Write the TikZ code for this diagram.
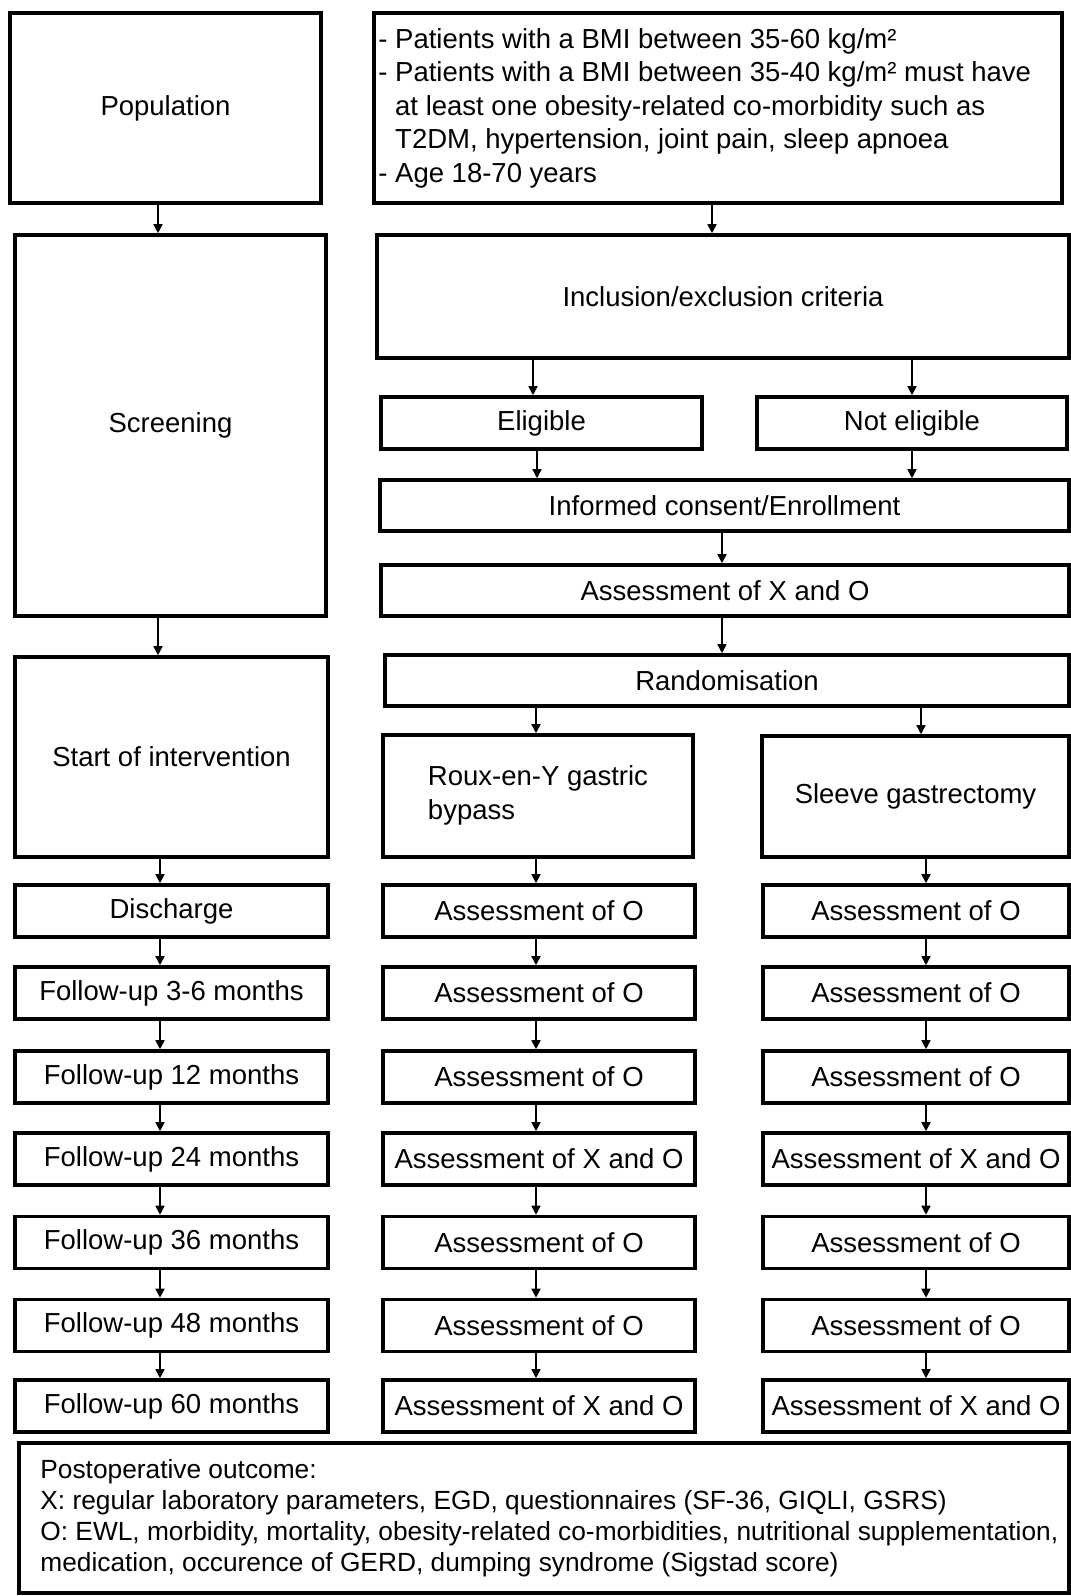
\documentclass[tikz,border=0pt]{standalone}
\usepackage{fontspec}
\setmainfont{Liberation Sans}
\usetikzlibrary{arrows.meta}

\begin{document}
\begin{tikzpicture}[
  x=1pt, y=-1pt,
  >={Triangle[length=9pt,width=9pt]},
  box/.style={draw, line width=3.6pt, inner sep=0pt, align=center,
    font=\fontsize{27.5}{33.5}\selectfont},
  txt/.style={inner sep=0pt, align=left, anchor=west},
  arr/.style={->, line width=1.6pt},
  lrow/.style={box, minimum width=313pt, minimum height=52pt},
  rrow/.style={box, minimum width=312pt, minimum height=52pt},
  srow/.style={box, minimum width=306pt, minimum height=52pt},
]

  % page size of the reference
  \path[use as bounding box] (0,0) rectangle (1071,1596);

  % arrow columns
  \coordinate (lcol) at (160,0);
  \coordinate (rcol) at (536,0);
  \coordinate (scol) at (926,0);
  \coordinate (mcol) at (722,0);
  \coordinate (ncol) at (912,0);
  \coordinate (tcol) at (712,0);

  % --- Top part ---
  \node[box, minimum width=311pt, minimum height=190pt] (pop) at (165.5,108) {Population};
  \node[box, minimum width=688pt, minimum height=190pt] (crit) at (718,108) {};
  \node[txt, font=\fontsize{27.5}{33.5}\selectfont] (crittxt) at ([xshift=6pt]crit.west)
    {- Patients with a BMI between 35-60 kg/m²\\
     - Patients with a BMI between 35-40 kg/m² must have\\
     \phantom{- }at least one obesity-related co-morbidity such as\\
     \phantom{- }T2DM, hypertension, joint pain, sleep apnoea\\
     - Age 18-70 years};

  \node[box, minimum width=311pt, minimum height=381pt] (scr) at (170.5,425.5) {Screening};
  \node[box, minimum width=692pt, minimum height=123pt] (incl) at (723,296.5) {Inclusion/exclusion criteria};
  \node[box, minimum width=321pt, minimum height=52pt] (elig) at (541.5,423) {Eligible};
  \node[box, minimum width=310pt, minimum height=52pt] (notel) at (912,423) {Not eligible};
  \node[box, minimum width=689pt, minimum height=51pt] (cons) at (724.5,505.5) {Informed consent/Enrollment};
  \node[box, minimum width=688pt, minimum height=51pt] (base) at (725,590.5) {Assessment of X and O};
  \node[box, minimum width=684pt, minimum height=51pt] (rand) at (727,680.5) {Randomisation};

  % --- Intervention ---
  \node[box, minimum width=313pt, minimum height=200pt] (start) at (171.5,757) {Start of intervention};
  \node[box, minimum width=310pt, minimum height=122pt] (roux) at (538,796) {\begin{tabular}{@{}l@{}}Roux-en-Y gastric\\bypass\end{tabular}};
  \node[box, minimum width=307pt, minimum height=121pt] (sleeve) at (915.5,796.5) {Sleeve gastrectomy};

  % --- Follow-up rows ---
  \foreach \i/\yy/\lt/\rt in {1/911/Discharge/O, 2/993/Follow-up 3-6 months/O,
      3/1077/Follow-up 12 months/O, 4/1159/Follow-up 24 months/X and O,
      5/1242.5/Follow-up 36 months/O, 6/1325.5/Follow-up 48 months/O,
      7/1406/Follow-up 60 months/X and O} {
    \node[lrow] (l\i) at (171.5,\yy) {\lt};
    \node[rrow] (r\i) at (539,\yy) {Assessment of \rt};
    \node[srow] (s\i) at (916,\yy) {Assessment of \rt};
  }

  % --- Outcome ---
  \node[box, minimum width=1050pt, minimum height=150pt] (outc) at (544,1518) {};
  \node[txt, font=\fontsize{26.3}{31}\selectfont] (outtxt) at ([xshift=23pt]outc.west)
    {Postoperative outcome:\\
     X: regular laboratory parameters, EGD, questionnaires (SF-36, GIQLI, GSRS)\\
     O: EWL, morbidity, mortality, obesity-related co-morbidities, nutritional supplementation,\\
     medication, occurence of GERD, dumping syndrome (Sigstad score)};

  % --- Arrows ---
  \draw[arr] (pop.south -| 158,0) -- (scr.north -| 158,0);
  \draw[arr] (crit.south -| tcol) -- (incl.north -| tcol);
  \draw[arr] (incl.south -| 533,0) -- (elig.north -| 533,0);
  \draw[arr] (incl.south -| ncol) -- (notel.north -| ncol);
  \draw[arr] (elig.south -| 537,0) -- (cons.north -| 537,0);
  \draw[arr] (notel.south -| ncol) -- (cons.north -| ncol);
  \draw[arr] (cons.south -| mcol) -- (base.north -| mcol);
  \draw[arr] (base.south -| mcol) -- (rand.north -| mcol);
  \draw[arr] (rand.south -| rcol) -- (roux.north -| rcol);
  \draw[arr] (rand.south -| 921,0) -- (sleeve.north -| 921,0);
  \draw[arr] (scr.south -| 158,0) -- (start.north -| 158,0);
  \draw[arr] (start.south -| lcol) -- (l1.north -| lcol);
  \draw[arr] (roux.south -| rcol) -- (r1.north -| rcol);
  \draw[arr] (sleeve.south -| scol) -- (s1.north -| scol);
  \foreach \i [count=\j from 2] in {1,...,6} {
    \draw[arr] (l\i.south -| lcol) -- (l\j.north -| lcol);
    \draw[arr] (r\i.south -| rcol) -- (r\j.north -| rcol);
    \draw[arr] (s\i.south -| scol) -- (s\j.north -| scol);
  }

\end{tikzpicture}
\end{document}
